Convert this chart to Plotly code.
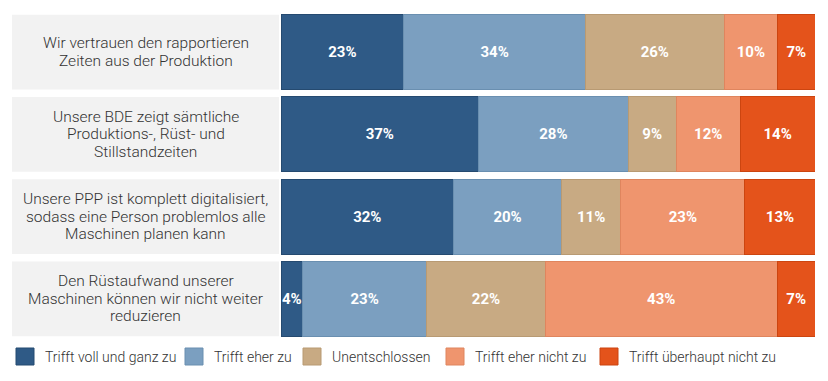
import plotly.graph_objects as go

category_lines = [
    ["Wir vertrauen den rapportieren", "Zeiten aus der Produktion"],
    ["Unsere BDE zeigt sämtliche", "Produktions-, Rüst- und", "Stillstandzeiten"],
    ["Unsere PPP ist komplett digitalisiert,", "sodass eine Person problemlos alle", "Maschinen planen kann"],
    ["Den Rüstaufwand unserer", "Maschinen können wir nicht weiter", "reduzieren"],
]
series_names = [
    "Trifft voll und ganz zu",
    "Trifft eher zu",
    "Unentschlossen",
    "Trifft eher nicht zu",
    "Trifft überhaupt nicht zu",
]
values_voll = [23, 37, 32, 4]
values_eher = [34, 28, 20, 23]
values_unent = [26, 9, 11, 22]
values_eher_nicht = [10, 12, 23, 43]
values_ueberhaupt = [7, 14, 13, 7]

series_values = [values_voll, values_eher, values_unent, values_eher_nicht, values_ueberhaupt]
colors = ["#2f5a86", "#7b9fc0", "#c8aa83", "#ef956e", "#e4531b"]
edge_colors = ["#254a70", "#6a8fb0", "#b89a73", "#df855e", "#cc4510"]

ids = list(range(len(category_lines)))

fig = go.Figure()
for name, vals, col, ec in zip(series_names, series_values, colors, edge_colors):
    fig.add_trace(go.Bar(
        y=ids, x=vals, orientation="h", name=name,
        marker=dict(color=col, line=dict(color=ec, width=1)),
        text=[f"{v}%" for v in vals],
        textposition="inside", insidetextanchor="middle", textangle=0,
        textfont=dict(family="Roboto", size=15, color="#ffffff", weight="bold"),
        showlegend=False, hoverinfo="skip",
    ))

# page body has an 8px margin; figure coordinates = window coordinates - 8
OFF = 8
W, H = 828 - 2 * OFF, 381 - 2 * OFF
ml, mr, mt, mb = 281 - OFF, W - (815 - OFF), 11 - OFF, H - (340 - OFF)
pw = W - ml - mr
ph = H - mt - mb


def px_x(x):
    return (x - OFF - ml) / pw


def px_y(y):
    return 1 - (y - OFF - mt) / ph


box_x0 = px_x(12)
box_x1 = px_x(279)
half = 0.455
line_pitch = 17.5
for i, lines in enumerate(category_lines):
    fig.add_shape(type="rect", xref="paper", yref="y",
                  x0=box_x0, x1=box_x1, y0=i - half, y1=i + half,
                  fillcolor="#f2f2f2", line=dict(width=0), layer="below")
    n = len(lines)
    for k, line in enumerate(lines):
        fig.add_annotation(xref="paper", yref="y", x=(box_x0 + box_x1) / 2, y=i,
                           yshift=((n - 1) / 2 - k) * line_pitch,
                           text=line, showarrow=False, align="center",
                           xanchor="center", yanchor="middle",
                           font=dict(family="Roboto", size=15.5, color="#333333", weight=300))

# legend drawn as layout items (window pixel positions of each legend square)
legend_square_left = [16, 185, 303, 446, 600]
sq_w, sq_top, sq_bot = 18, 348, 365
for name, col, ec, lx in zip(series_names, colors, edge_colors, legend_square_left):
    fig.add_shape(type="rect", xref="paper", yref="paper",
                  x0=px_x(lx), x1=px_x(lx + sq_w), y0=px_y(sq_bot), y1=px_y(sq_top),
                  fillcolor=col, line=dict(color=ec, width=1))
    fig.add_annotation(xref="paper", yref="paper", x=px_x(lx + 27), y=px_y((sq_top + sq_bot) / 2),
                       text=name, showarrow=False, xanchor="left", yanchor="middle",
                       font=dict(family="Roboto", size=14, color="#333333", weight=300))

fig.update_layout(
    width=W, height=H,
    margin=dict(l=ml, r=mr, t=mt, b=mb, autoexpand=False),
    barmode="stack", barnorm="percent", bargap=0.09,
    plot_bgcolor="white", paper_bgcolor="white",
    uniformtext=dict(minsize=15, mode="show"),
    xaxis=dict(visible=False, range=[0, 100], fixedrange=True),
    yaxis=dict(visible=False, range=[3.5, -0.5], fixedrange=True),
    showlegend=False,
    font=dict(family="Roboto"),
)

fig.write_html("out.html")
